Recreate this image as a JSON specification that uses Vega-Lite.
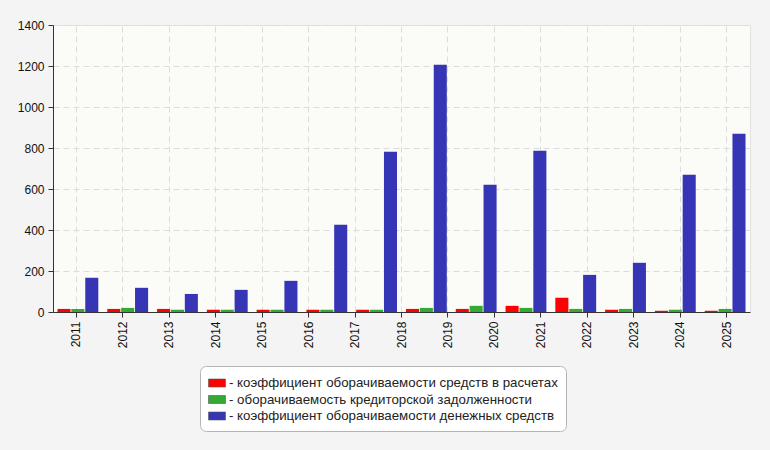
{
  "$schema": "https://vega.github.io/schema/vega-lite/v6.json",
  "autosize": {"type": "none"},
  "width": 697,
  "height": 287,
  "padding": {"left": 53, "top": 25, "right": 20, "bottom": 138},
  "background": "#f4f4f4",
  "datasets": {
    "bars": [
      {"year": "2011", "series": "коэффициент оборачиваемости средств в расчетах", "value": 15},
      {"year": "2012", "series": "коэффициент оборачиваемости средств в расчетах", "value": 15},
      {"year": "2013", "series": "коэффициент оборачиваемости средств в расчетах", "value": 15},
      {"year": "2014", "series": "коэффициент оборачиваемости средств в расчетах", "value": 11},
      {"year": "2015", "series": "коэффициент оборачиваемости средств в расчетах", "value": 11},
      {"year": "2016", "series": "коэффициент оборачиваемости средств в расчетах", "value": 11},
      {"year": "2017", "series": "коэффициент оборачиваемости средств в расчетах", "value": 11},
      {"year": "2018", "series": "коэффициент оборачиваемости средств в расчетах", "value": 15},
      {"year": "2019", "series": "коэффициент оборачиваемости средств в расчетах", "value": 15},
      {"year": "2020", "series": "коэффициент оборачиваемости средств в расчетах", "value": 30},
      {"year": "2021", "series": "коэффициент оборачиваемости средств в расчетах", "value": 69},
      {"year": "2022", "series": "коэффициент оборачиваемости средств в расчетах", "value": 11},
      {"year": "2023", "series": "коэффициент оборачиваемости средств в расчетах", "value": 6},
      {"year": "2024", "series": "коэффициент оборачиваемости средств в расчетах", "value": 6},
      {"year": "2011", "series": "оборачиваемость кредиторской задолженности", "value": 15},
      {"year": "2012", "series": "оборачиваемость кредиторской задолженности", "value": 20},
      {"year": "2013", "series": "оборачиваемость кредиторской задолженности", "value": 11},
      {"year": "2014", "series": "оборачиваемость кредиторской задолженности", "value": 11},
      {"year": "2015", "series": "оборачиваемость кредиторской задолженности", "value": 11},
      {"year": "2016", "series": "оборачиваемость кредиторской задолженности", "value": 11},
      {"year": "2017", "series": "оборачиваемость кредиторской задолженности", "value": 11},
      {"year": "2018", "series": "оборачиваемость кредиторской задолженности", "value": 20},
      {"year": "2019", "series": "оборачиваемость кредиторской задолженности", "value": 30},
      {"year": "2020", "series": "оборачиваемость кредиторской задолженности", "value": 20},
      {"year": "2021", "series": "оборачиваемость кредиторской задолженности", "value": 15},
      {"year": "2022", "series": "оборачиваемость кредиторской задолженности", "value": 15},
      {"year": "2023", "series": "оборачиваемость кредиторской задолженности", "value": 11},
      {"year": "2024", "series": "оборачиваемость кредиторской задолженности", "value": 15},
      {"year": "2011", "series": "коэффициент оборачиваемости денежных средств", "value": 167},
      {"year": "2012", "series": "коэффициент оборачиваемости денежных средств", "value": 118},
      {"year": "2013", "series": "коэффициент оборачиваемости денежных средств", "value": 88},
      {"year": "2014", "series": "коэффициент оборачиваемости денежных средств", "value": 108},
      {"year": "2015", "series": "коэффициент оборачиваемости денежных средств", "value": 152},
      {"year": "2016", "series": "коэффициент оборачиваемости денежных средств", "value": 426},
      {"year": "2017", "series": "коэффициент оборачиваемости денежных средств", "value": 782},
      {"year": "2018", "series": "коэффициент оборачиваемости денежных средств", "value": 1206},
      {"year": "2019", "series": "коэффициент оборачиваемости денежных средств", "value": 621},
      {"year": "2020", "series": "коэффициент оборачиваемости денежных средств", "value": 787},
      {"year": "2021", "series": "коэффициент оборачиваемости денежных средств", "value": 181},
      {"year": "2022", "series": "коэффициент оборачиваемости денежных средств", "value": 240},
      {"year": "2023", "series": "коэффициент оборачиваемости денежных средств", "value": 670},
      {"year": "2024", "series": "коэффициент оборачиваемости денежных средств", "value": 870}
    ],
    "labels": [
      {"year": "2011"}, {"year": "2012"}, {"year": "2013"}, {"year": "2014"}, {"year": "2015"},
      {"year": "2016"}, {"year": "2017"}, {"year": "2018"}, {"year": "2019"}, {"year": "2020"},
      {"year": "2021"}, {"year": "2022"}, {"year": "2023"}, {"year": "2024"}, {"year": "2025"}
    ]
  },
  "layer": [
    {
      "data": {"name": "labels"},
      "mark": {"type": "point", "opacity": 0},
      "encoding": {
        "x": {
          "field": "year",
          "type": "nominal",
          "scale": {"type": "band", "paddingInner": 0, "paddingOuter": 0},
          "axis": {
            "title": null,
            "labelAngle": -90,
            "labelFontSize": 12,
            "labelColor": "#111",
            "labelPadding": 4,
            "tickColor": "#333",
            "tickSize": 5,
            "domainColor": "#333",
            "grid": true,
            "gridColor": "#dcdcdc",
            "gridDash": [6, 4],
            "bandPosition": 0.5
          }
        }
      }
    },
    {
      "data": {"name": "bars"},
      "mark": {"type": "bar", "strokeWidth": 0},
      "encoding": {
        "x": {
          "field": "year",
          "type": "nominal",
          "scale": {"paddingInner": 0.18, "paddingOuter": 0.09},
          "axis": null
        },
        "xOffset": {
          "field": "series",
          "type": "nominal",
          "scale": {
            "domain": [
              "коэффициент оборачиваемости средств в расчетах",
              "оборачиваемость кредиторской задолженности",
              "коэффициент оборачиваемости денежных средств"
            ],
            "paddingInner": 0.06
          }
        },
        "y": {
          "field": "value",
          "type": "quantitative",
          "scale": {"domain": [0, 1400], "nice": false},
          "axis": {
            "title": null,
            "values": [0, 200, 400, 600, 800, 1000, 1200, 1400],
            "format": "d",
            "labelFontSize": 12,
            "labelColor": "#111",
            "labelPadding": 4,
            "tickColor": "#333",
            "tickSize": 5,
            "domainColor": "#333",
            "gridColor": "#dcdcdc",
            "gridDash": [6, 4]
          }
        },
        "color": {
          "field": "series",
          "type": "nominal",
          "title": null,
          "scale": {
            "domain": [
              "коэффициент оборачиваемости средств в расчетах",
              "оборачиваемость кредиторской задолженности",
              "коэффициент оборачиваемости денежных средств"
            ],
            "range": ["#ff0000", "#33aa33", "#3535b5"]
          },
          "legend": {
            "orient": "none",
            "legendX": 147,
            "legendY": 341,
            "direction": "vertical",
            "fillColor": "#ffffff",
            "strokeColor": "#b4b4b4",
            "cornerRadius": 6,
            "padding": 8,
            "rowPadding": 0.5,
            "symbolType": "M-1,-0.47H1V0.47H-1Z",
            "symbolSize": 289,
            "symbolStrokeColor": "#555",
            "symbolStrokeWidth": 0.6,
            "labelFontSize": 13.3,
            "labelColor": "#222",
            "labelOffset": 3,
            "labelLimit": 400,
            "labelExpr": "'- ' + datum.label"
          }
        }
      }
    }
  ],
  "resolve": {"scale": {"x": "independent"}, "axis": {"x": "independent"}},
  "config": {
    "font": "Liberation Sans",
    "view": {"fill": "#fbfbf7", "stroke": "#e2e2e2"}
  }
}
